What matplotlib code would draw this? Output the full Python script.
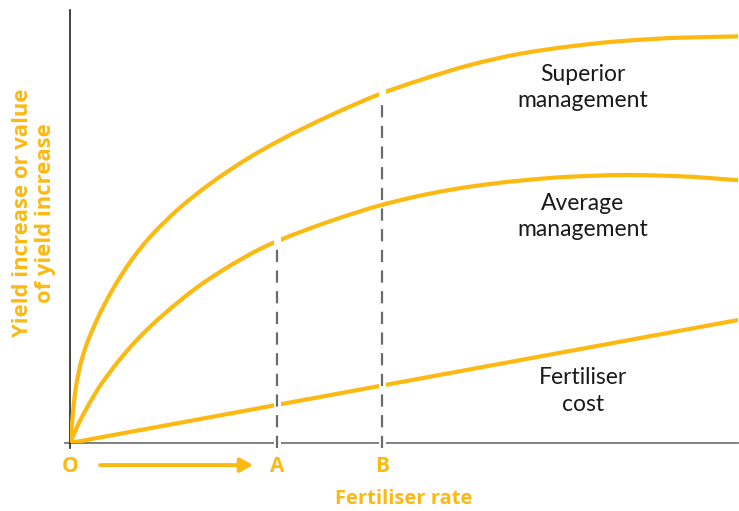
import matplotlib.pyplot as plt
from matplotlib.path import Path
from matplotlib.patches import PathPatch
import numpy as np

# Response of yield to fertiliser rate (arbitrary units, 0-100)
rate_superior = [0, 0.3, 0.75, 1.8, 3.9, 6.4, 9.0, 12.0, 16.5, 21.0, 26.5,
                 31.4, 38.9, 46.4, 52.4, 59.9, 67.4, 74.9, 82.3, 91.3, 100]
yield_superior = [0, 4.5, 11.5, 19.5, 28.0, 35.5, 41.8, 47.6, 54.4, 59.9, 65.6,
                  69.9, 75.6, 80.6, 83.8, 87.3, 89.9, 91.6, 92.8, 93.6, 93.9]

rate_average = [0, 0.45, 1.2, 2.2, 4.2, 7.2, 10.5, 13.8, 18.9, 23.8, 28.7, 31.0,
                38.9, 46.7, 53.9, 59.9, 67.4, 74.9, 83.4, 91.3, 100]
yield_average = [0, 1.6, 4.2, 7.2, 12.5, 18.8, 24.6, 29.4, 35.8, 40.8, 45.0, 46.6,
                 51.2, 55.0, 57.6, 59.2, 60.6, 61.5, 61.9, 61.6, 60.7]

rate_cost = [0, 100]
cost = [0, 28.4]

# Optimum rates for average (A) and superior (B) management
rate_A = 31.0
rate_B = 46.7

curve_labels = ["Superior\nmanagement", "Average\nmanagement", "Fertiliser\ncost"]
label_y = [82.2, 52.4, 12.0]
label_x = 76.8

ORANGE = "#FCB912"
GREY = "#6b6b6b"
BOLD_FONT = ["Open Sans", "DejaVu Sans"]


def smooth_path(x, y):
    # monotone cubic (Fritsch-Carlson) tangents, drawn as Bezier segments
    x = np.asarray(x, float)
    y = np.asarray(y, float)
    h = np.diff(x)
    d = np.diff(y) / h
    m = np.empty_like(y)
    m[0], m[-1] = d[0], d[-1]
    for i in range(1, len(x) - 1):
        if d[i - 1] * d[i] <= 0:
            m[i] = 0
        else:
            w1 = 2 * h[i] + h[i - 1]
            w2 = h[i] + 2 * h[i - 1]
            m[i] = (w1 + w2) / (w1 / d[i - 1] + w2 / d[i])
    verts = [(x[0], y[0])]
    codes = [Path.MOVETO]
    for i in range(len(x) - 1):
        verts += [(x[i] + h[i] / 3, y[i] + m[i] * h[i] / 3),
                  (x[i + 1] - h[i] / 3, y[i + 1] - m[i + 1] * h[i] / 3),
                  (x[i + 1], y[i + 1])]
        codes += [Path.CURVE4] * 3
    return Path(verts, codes)


plt.rcParams["font.family"] = ["Lato", "DejaVu Sans"]

fig = plt.figure(figsize=(7.39, 5.11), dpi=100)
ax = fig.add_axes([70 / 739, 68 / 511, 668 / 739, 433 / 511])
ax.set_xlim(0, 100)
ax.set_ylim(0, 100)
for s in ax.spines.values():
    s.set_visible(False)

# axes drawn by hand so they can overhang slightly
ax.plot([-0.8, 100], [0, 0], color="#777777", lw=1.3, clip_on=False, zorder=1)
ax.plot([0, 0], [-1.2, 100], color="#222222", lw=1.2, clip_on=False, zorder=1)

for xs, ys in [(rate_superior, yield_superior), (rate_average, yield_average)]:
    ax.add_patch(PathPatch(smooth_path(xs, ys), facecolor="none", edgecolor=ORANGE,
                           lw=3, capstyle="round", zorder=3))
ax.plot(rate_cost, cost, color=ORANGE, lw=3, solid_capstyle="round", zorder=3)

# dashed guides at A and B, with small white breaks where they cross other lines
top_A = np.interp(rate_A, rate_average, yield_average)
top_B = np.interp(rate_B, rate_superior, yield_superior)
for x, top in [(rate_A, top_A), (rate_B, top_B)]:
    crossings = [0, np.interp(x, rate_cost, cost), top]
    for yc in crossings:
        ax.plot([x, x], [yc - 1.0, yc + 1.0], color="white", lw=5,
                solid_capstyle="butt", clip_on=False, zorder=4)
    ax.plot([x, x], [-1.2, top - 0.8], color=GREY, lw=1.6, dashes=(5.5, 3.8),
            clip_on=False, zorder=5)

for text, y in zip(curve_labels, label_y):
    ax.text(label_x, y, text, ha="center", va="center", fontsize=16.5,
            color="#1a1a1a", linespacing=1.3)

ax.set_xticks([0, rate_A, rate_B])
ax.set_xticklabels(["O", "A", "B"], fontsize=15, fontweight="bold", color=ORANGE,
                   family=BOLD_FONT)
ax.tick_params(axis="x", length=0, pad=9)
ax.set_yticks([])

ax.annotate("", xy=(27.4, -0.051), xytext=(4.5, -0.051),
            xycoords=ax.get_xaxis_transform(), textcoords=ax.get_xaxis_transform(),
            arrowprops=dict(arrowstyle="-|>,head_length=0.75,head_width=0.42",
                            color=ORANGE, lw=2.8, shrinkA=0, shrinkB=0))

ax.set_xlabel("Fertiliser rate", fontsize=14.5, fontweight="bold", color=ORANGE,
              family=BOLD_FONT, labelpad=9)
ax.text(-0.054, 0.531, "Yield increase or value\nof yield increase",
        transform=ax.transAxes, rotation=90, ha="center", va="center",
        multialignment="center", fontsize=15.8, fontweight="bold", color=ORANGE,
        family=BOLD_FONT, linespacing=1.08)

fig.savefig("out.png", dpi=100)
